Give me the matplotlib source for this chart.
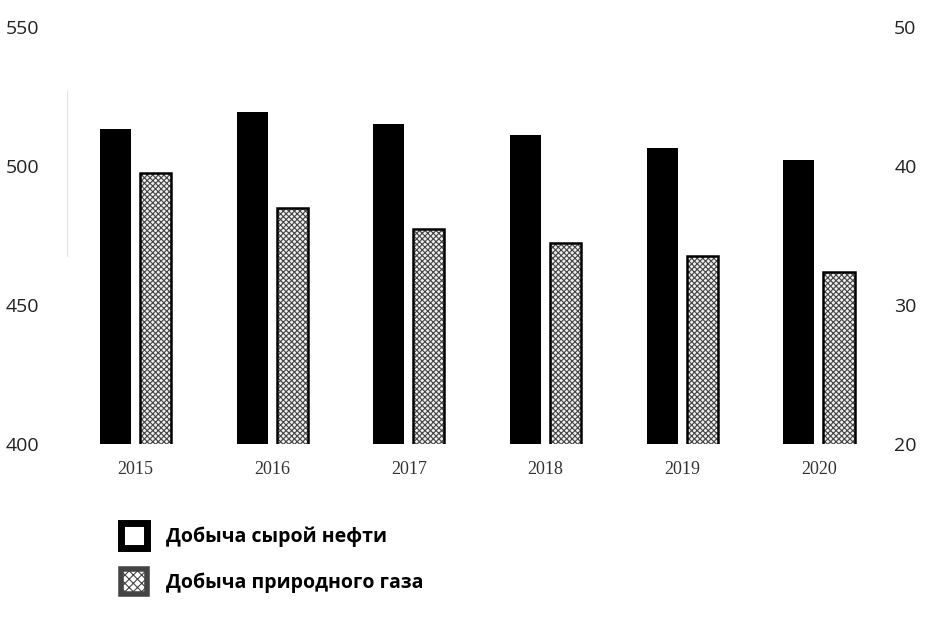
import matplotlib.pyplot as plt
import numpy as np
from matplotlib.patches import Patch

# values
years = ["2015", "2016", "2017", "2018", "2019", "2020"]
oil = [513.5, 519.5, 515.0, 511.0, 506.5, 502.0]      # left axis
gas = [39.5, 37.0, 35.5, 34.5, 33.5, 32.4]            # right axis
oil_label = "Добыча сырой нефти"
gas_label = "Добыча природного газа"

plt.rcParams["hatch.linewidth"] = 0.8

fig = plt.figure(figsize=(9.32, 6.42), dpi=100)
ax = fig.add_axes([0.072, 0.308, 0.880, 0.650])
ax2 = ax.twinx()

x = np.arange(len(years))
w = 0.227
off = 0.147

ax.bar(x - off, oil, width=w, bottom=0, color="black", zorder=2)
ax.set_ylim(400, 550)
ax.set_yticks([400, 450, 500, 550])
ax.set_xlim(-0.5, len(years) - 0.5)
ax.set_xticks(x)
ax.set_xticklabels(years, family="Liberation Serif", fontsize=13, color="#333333")

# gas: hatched fill + solid black outline
ax2.bar(x + off, gas, width=w, color="#eeeeee", edgecolor="#444444",
        hatch="xxxxxx", linewidth=0, zorder=2)
ax2.bar(x + off, gas, width=w, fill=False, edgecolor="black",
        linewidth=1.8, zorder=3)
ax2.set_ylim(20, 50)
ax2.set_yticks([20, 30, 40, 50])

for a in (ax, ax2):
    for s in a.spines.values():
        s.set_visible(False)
    a.tick_params(length=0)
ax.tick_params(axis="y", labelsize=14, pad=20)
ax.tick_params(axis="x", pad=12)
ax2.tick_params(axis="y", labelsize=14, pad=5)
for lab in ax.get_yticklabels() + ax2.get_yticklabels():
    lab.set_family("Open Sans")
    lab.set_color("#222222")
ax.axvline(-0.5, color="#dddddd", linewidth=0.6, ymin=0.45, ymax=0.85)

handles = [
    Patch(facecolor="white", edgecolor="black", linewidth=5, label=oil_label),
    Patch(facecolor="white", edgecolor="#444444", linewidth=4, hatch="xxxx",
          label=gas_label),
]
fig.legend(handles=handles, loc="upper left",
           bbox_to_anchor=(121 / 932, 1 - 523 / 642), frameon=False,
           borderpad=0, borderaxespad=0, handlelength=1.35, handleheight=1.6,
           handletextpad=0.95, labelspacing=1.1,
           prop={"family": "Open Sans", "weight": "bold", "size": 14})

fig.savefig("out.png", dpi=100)
